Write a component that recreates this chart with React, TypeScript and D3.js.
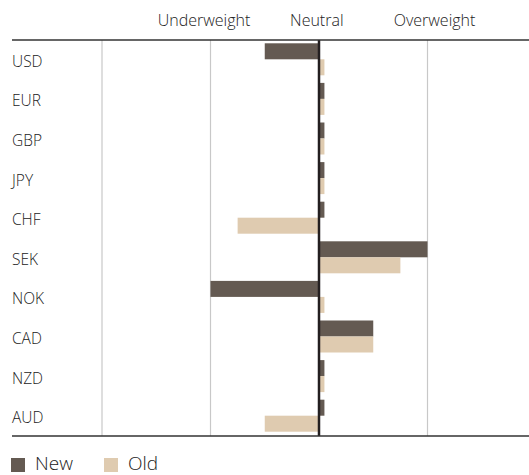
import React from "react";
import * as d3 from "d3";

const categories = ["USD", "EUR", "GBP", "JPY", "CHF", "SEK", "NOK", "CAD", "NZD", "AUD"];
const newValues = [-0.5, 0.05, 0.05, 0.05, 0.05, 1, -1, 0.5, 0.05, 0.05];
const oldValues = [0.05, 0.05, 0.05, 0.05, -0.75, 0.75, 0.05, 0.5, 0.05, -0.5];
const headerLabels = [
  { text: "Underweight", value: -1.06 },
  { text: "Neutral", value: -0.02 },
  { text: "Overweight", value: 1.065 },
];
const gridValues = [-2, -1, 1];
const seriesNames = ["New", "Old"];
const colors = ["#645a52", "#dfcbb0"];

export default function App() {
  const W = 529, H = 475;
  const top = 40, bottom = 436;
  const x = d3.scaleLinear().domain([-1, 1]).range([210.5, 427.5]);
  const y = d3.scaleBand().domain(categories).range([top, bottom]);
  const barH = 16;
  const font = "'Open Sans', 'Noto Sans', sans-serif";
  const textFill = "#222";
  const weight = 300;
  return (
    <svg width={W} height={H} style={{ position: "absolute", left: 0, top: 0 }}>
      <rect width={W} height={H} fill="#fff" />
      {headerLabels.map((h) => (
        <text key={h.text} x={x(h.value)} y={26} textAnchor="middle" fontFamily={font} fontWeight={weight} fontSize={16} fill={textFill}>
          {h.text}
        </text>
      ))}
      {gridValues.map((v) => (
        <line key={v} x1={x(v) < 102 ? 102 : x(v)} x2={x(v) < 102 ? 102 : x(v)} y1={top} y2={bottom} stroke="#c8c8c8" strokeWidth={1.2} />
      ))}
      {categories.map((c, i) => {
        const cy = (y(c) as number) + y.bandwidth() / 2;
        const nv = newValues[i];
        const ov = oldValues[i];
        return (
          <g key={c}>
            <text x={12} y={cy + 7} fontFamily={font} fontWeight={weight} fontSize={15.5} fill={textFill}>{c}</text>
            <rect x={Math.min(x(0), x(nv))} y={cy - barH - 0.5} width={Math.abs(x(nv) - x(0))} height={barH} fill={colors[0]} />
            <rect x={Math.min(x(0), x(ov))} y={cy - 0.5} width={Math.abs(x(ov) - x(0))} height={barH} fill={colors[1]} />
          </g>
        );
      })}
      <line x1={x(0)} x2={x(0)} y1={top} y2={bottom} stroke="#231f20" strokeWidth={2.5} />
      <line x1={12} x2={W} y1={top} y2={top} stroke="#333" strokeWidth={1.5} />
      <line x1={12} x2={W} y1={bottom} y2={bottom} stroke="#333" strokeWidth={1.5} />
      {seriesNames.map((s, i) => (
        <g key={s} transform={`translate(${11 + i * 93},0)`}>
          <rect x={0} y={458} width={14} height={14} fill={colors[i]} />
          <text x={24} y={470} fontFamily={font} fontWeight={weight} fontSize={19} fill={textFill}>{s}</text>
        </g>
      ))}
    </svg>
  );
}
